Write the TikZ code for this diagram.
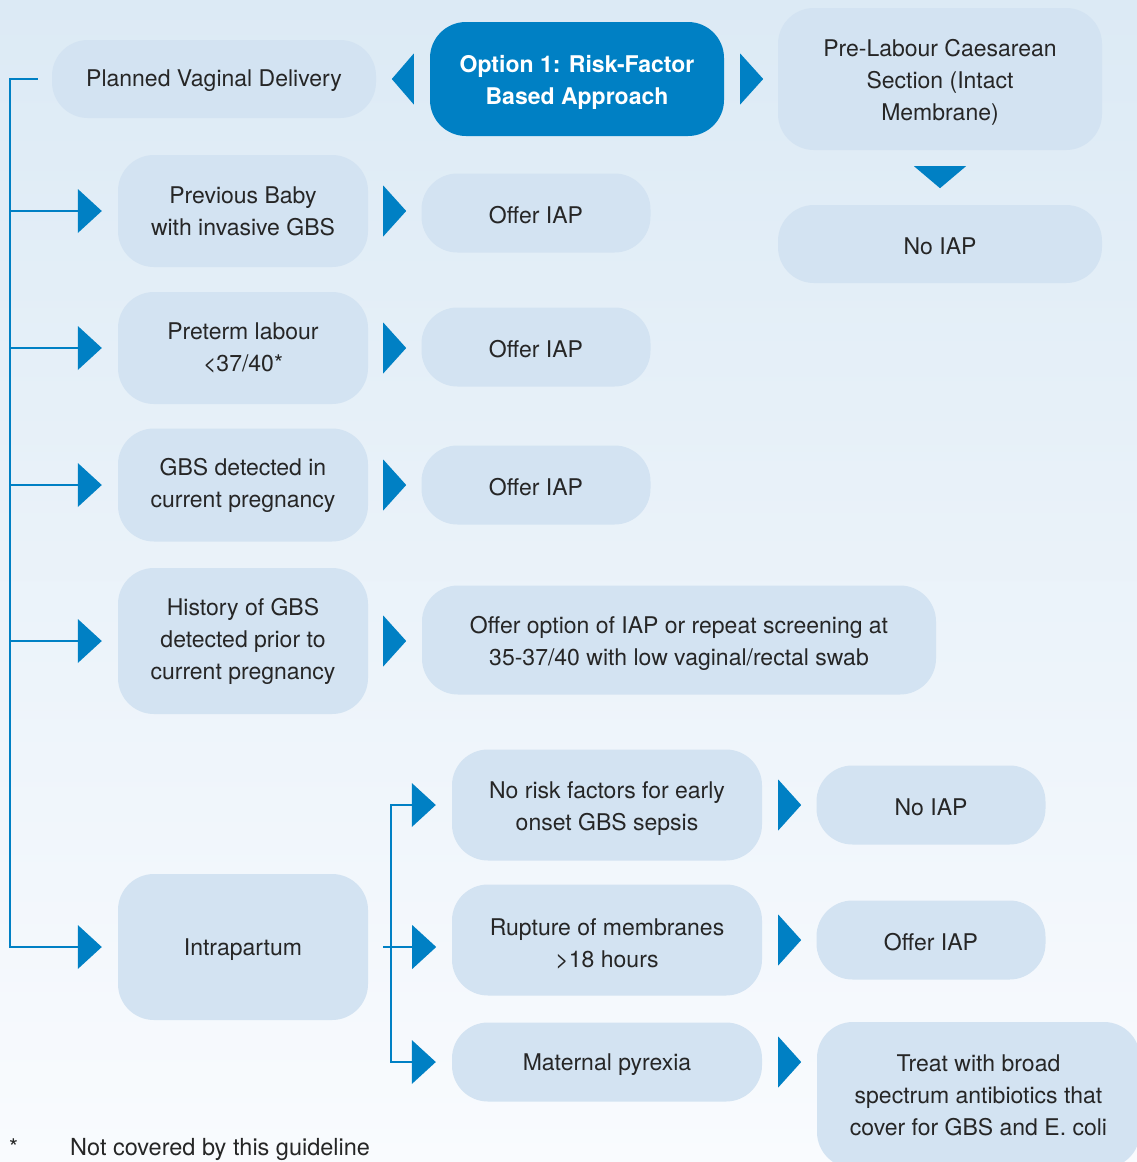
\documentclass[tikz,border=0pt]{standalone}
\usepackage{fontspec}
\setmainfont{TeX Gyre Heros}
\usetikzlibrary{calc}
\definecolor{bgtop}{HTML}{DCEAF5}
\definecolor{bgbot}{HTML}{F9FBFE}
\definecolor{boxfill}{HTML}{D3E3F2}
\definecolor{acol}{HTML}{0080C4}
\definecolor{txt}{HTML}{262626}
\newcommand{\lowr}{\rule{0pt}{24pt}}
\tikzset{
  box/.style={rectangle, rounded corners=36pt, fill=boxfill, text=txt, align=center, inner sep=0pt,
    font=\fontsize{23}{32}\selectfont, execute at begin node={\rule{0pt}{21pt}}},
  mainbox/.style={box, fill=acol, text=white, font=\fontsize{23}{32}\selectfont\bfseries},
  ln/.style={draw=acol, line width=2.4pt},
  rtri/.pic={\fill[acol] (0,-22) -- (24,0) -- (0,22) -- cycle;},
  rtrib/.pic={\fill[acol] (0,-25.5) -- (23,0) -- (0,25.5) -- cycle;},
  ltrib/.pic={\fill[acol] (0,-25.5) -- (-22,0) -- (0,25.5) -- cycle;},
  dtri/.pic={\fill[acol] (-26,0) -- (26,0) -- (0,22) -- cycle;},
}
\begin{document}
\begin{tikzpicture}[x=1pt,y=-1pt]
\useasboundingbox (0,0) rectangle (1137,1162);
\begin{scope}
\clip (0,0) rectangle (1137,1162);
\shade[top color=bgtop, bottom color=bgbot] (0,0) rectangle (1137,1162);

% top row
\node[box, minimum width=324pt, minimum height=78pt] (pvd) at (214,79) {Planned Vaginal Delivery};
\node[mainbox, minimum width=294pt, minimum height=114pt] (opt) at (577,79) {\lowr Option 1: Risk-Factor\\Based Approach};
\node[box, minimum width=324pt, minimum height=142pt] (plc) at (940,79) {\lowr Pre-Labour Caesarean\\Section (Intact\\Membrane)};
\node[box, minimum width=324pt, minimum height=78pt] (niap1) at (940,244) {No IAP};

% risk factors
\node[box, minimum width=250pt, minimum height=112pt] (pb) at (243,211) {Previous Baby\\with invasive GBS};
\node[box, minimum width=229pt, minimum height=79pt] (oi1) at (536,213) {Offer IAP};
\node[box, minimum width=250pt, minimum height=112pt] (pt) at (243,348) {Preterm labour\\\textless37/40*};
\node[box, minimum width=229pt, minimum height=79pt] (oi2) at (536,347) {Offer IAP};
\node[box, minimum width=250pt, minimum height=113pt] (gbs) at (243,485) {GBS detected in\\current pregnancy};
\node[box, minimum width=229pt, minimum height=79pt] (oi3) at (536,485) {Offer IAP};
\node[box, minimum width=250pt, minimum height=146pt] (hist) at (243,641) {History of GBS\\detected prior to\\current pregnancy};
\node[box, minimum width=514pt, minimum height=109pt] (opt2) at (679,640) {\lowr Offer option of IAP or repeat screening at\\35-37/40 with low vaginal/rectal swab};
\node[box, minimum width=250pt, minimum height=146pt] (intra) at (243,947) {Intrapartum};

% intrapartum branches
\node[box, minimum width=310pt, minimum height=111pt] (nrf) at (607,805) {\lowr No risk factors for early\\onset GBS sepsis};
\node[box, minimum width=310pt, minimum height=111pt] (rom) at (607,940) {\lowr Rupture of membranes\\\textgreater18 hours};
\node[box, minimum width=310pt, minimum height=79pt] (mp) at (607,1062) {Maternal pyrexia};
\node[box, minimum width=229pt, minimum height=79pt] (niap2) at (931,805) {No IAP};
\node[box, minimum width=229pt, minimum height=79pt] (oi4) at (931,940) {Offer IAP};
\node[box, minimum width=323pt, minimum height=146pt] (treat) at (978.5,1095) {Treat with broad\\spectrum antibiotics that\\cover for GBS and E. coli};

% footnote
\node[anchor=base west, text=txt, inner sep=0pt, font=\fontsize{23}{26}\selectfont] (ast) at (9,1155) {*};
\node[anchor=base west, text=txt, inner sep=0pt, font=\fontsize{23.5}{26}\selectfont] (fn) at (70,1155) {Not covered by this guideline};

% top arrows
\pic at ($(opt.west)+(-16,0)$) {ltrib};
\pic at ($(opt.east)+(16,0)$) {rtrib};
\pic at ($(plc.south)+(0,16)$) {dtri};

% main bracket
\coordinate (spine) at (10,79);
\draw[ln] ($(pvd.west)+(-14,0)$) -- (spine) |- ($(intra.west)+(-40,0)$);
\foreach \n in {pb,pt,gbs,hist}{
  \draw[ln] (spine |- \n.west) -- ($(\n.west)+(-40,0)$);
}
\foreach \n in {pb,pt,gbs,hist,intra}{
  \pic at ($(\n.west)+(-40,0)$) {rtri};
}
\foreach \n in {pb,pt,gbs,hist}{
  \pic at ($(\n.east)+(15,0)$) {rtrib};
}

% intrapartum bracket
\coordinate (ispine) at (391,805);
\draw[ln] ($(nrf.west)+(-40,0)$) -- (ispine) |- ($(mp.west)+(-40,0)$);
\draw[ln] ($(intra.east)+(15,0)$) -- ($(intra.east)+(44,0)$);
\pic at ($(nrf.west)+(-40,0)$) {rtri};
\pic at ($(intra.east)+(44,0)$) {rtri};
\pic at ($(mp.west)+(-40,0)$) {rtri};
\foreach \n in {nrf,rom,mp}{
  \pic at ($(\n.east)+(16,0)$) {rtrib};
}
\end{scope}
\end{tikzpicture}
\end{document}
